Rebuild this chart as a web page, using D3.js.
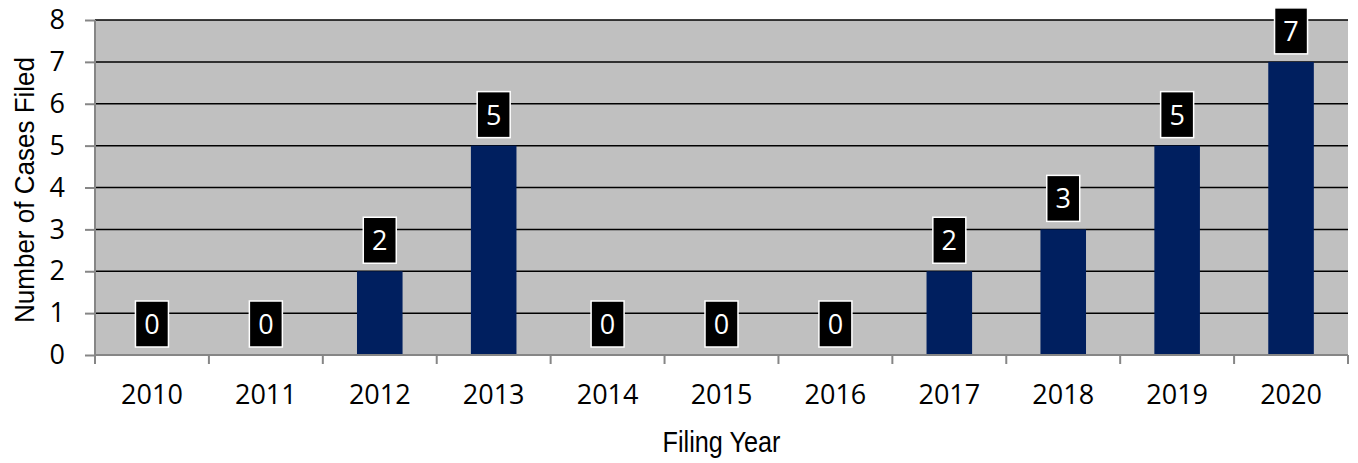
<!DOCTYPE html>
<html>
<head>
<meta charset="utf-8">
<script src="https://cdn.jsdelivr.net/npm/d3@7"></script>
<style>
  body { margin: 0; background: #fff; }
  .tick text { font-family: "Open Sans", "Noto Sans", sans-serif; font-size: 27px; fill: #000; }
</style>
</head>
<body>
<script>
// chart data
var years = ["2010", "2011", "2012", "2013", "2014", "2015", "2016", "2017", "2018", "2019", "2020"];
var cases = [0, 0, 2, 5, 0, 0, 0, 2, 3, 5, 7];
var yTicks = [0, 1, 2, 3, 4, 5, 6, 7, 8];

var margin = {left: 95, right: 10, top: 20, bottom: 108},
    width = 1358 - margin.left - margin.right,
    height = 463 - margin.top - margin.bottom;

var svg = d3.select("body").append("svg")
    .attr("width", 1358)
    .attr("height", 463);

var g = svg.append("g")
    .attr("transform", "translate(" + margin.left + "," + margin.top + ")");

var x = d3.scaleBand().domain(years).range([0, width]).paddingInner(0).paddingOuter(0);
var y = d3.scaleLinear().domain([0, 8]).range([height, 0]);

// plot background
g.append("rect")
    .attr("width", width)
    .attr("height", height)
    .attr("fill", "#c0c0c0");

// gridlines
g.selectAll(".grid")
    .data(yTicks.filter(function(d) { return d > 0; }))
    .enter().append("line")
    .attr("x1", 0).attr("x2", width)
    .attr("y1", function(d) { return y(d); })
    .attr("y2", function(d) { return y(d); })
    .attr("stroke", "#000")
    .attr("stroke-width", 1.5);

// bars
var bw = x.bandwidth() * 0.4;
g.selectAll(".bar")
    .data(cases)
    .enter().append("rect")
    .attr("class", "bar")
    .attr("x", function(d, i) { return x(years[i]) + (x.bandwidth() - bw) / 2; })
    .attr("width", bw)
    .attr("y", function(d) { return y(d); })
    .attr("height", function(d) { return height - y(d); })
    .attr("fill", "#001f5f");

// y axis
var yAxis = g.append("g")
    .call(d3.axisLeft(y).tickValues(yTicks).tickSize(10).tickPadding(20).tickFormat(d3.format("d")));
yAxis.selectAll("line, path").attr("stroke", "#868686").attr("stroke-width", 2);
yAxis.select(".domain").attr("d", "M0,0V" + height);

// x axis, ticks between categories
var xAxis = g.append("g")
    .attr("transform", "translate(0," + height + ")")
    .call(d3.axisBottom(x).tickSize(0).tickPadding(30));
xAxis.select(".domain").attr("stroke", "#868686").attr("stroke-width", 2).attr("d", "M0,0H" + width);
xAxis.selectAll(".sep")
    .data(d3.range(years.length + 1))
    .enter().append("line")
    .attr("x1", function(i) { return i * x.step(); })
    .attr("x2", function(i) { return i * x.step(); })
    .attr("y1", 0).attr("y2", 9)
    .attr("stroke", "#868686").attr("stroke-width", 2);

// data labels
var lbl = g.selectAll(".lbl")
    .data(cases)
    .enter().append("g")
    .attr("transform", function(d, i) {
        return "translate(" + (x(years[i]) + x.bandwidth() / 2) + "," + (y(d) - 8) + ")";
    });
lbl.append("rect")
    .attr("x", -16.5).attr("y", -46)
    .attr("width", 33).attr("height", 46)
    .attr("fill", "#000")
    .attr("stroke", "#fff")
    .attr("stroke-width", 1.5);
lbl.append("text")
    .attr("y", -13)
    .attr("text-anchor", "middle")
    .attr("fill", "#fff")
    .style("font-family", "'Open Sans', 'Noto Sans', sans-serif")
    .style("font-size", "27px")
    .text(function(d) { return d; });

// axis titles (Liberation Sans squeezed to look like a narrow face)
svg.append("text")
    .attr("transform", "translate(" + (margin.left + width / 2) + ",452) scale(0.87,1)")
    .attr("text-anchor", "middle")
    .style("font-family", "'Liberation Sans', Arial, sans-serif")
    .style("font-size", "29px")
    .text("Filing Year");

svg.append("text")
    .attr("transform", "translate(34,190) rotate(-90) scale(0.93,1)")
    .attr("text-anchor", "middle")
    .style("font-family", "'Liberation Sans', Arial, sans-serif")
    .style("font-size", "28px")
    .text("Number of Cases Filed");
</script>
</body>
</html>
